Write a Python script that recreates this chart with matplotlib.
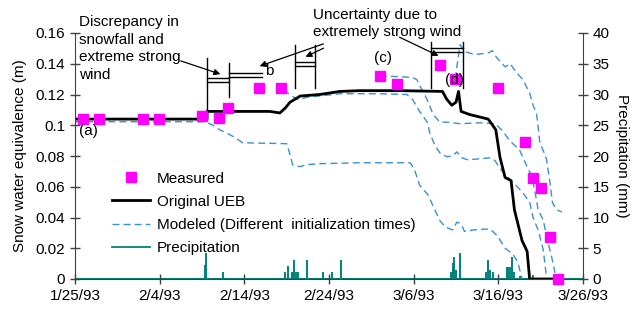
import matplotlib
matplotlib.use("Agg")
import matplotlib.pyplot as plt
from matplotlib.lines import Line2D
from matplotlib.patches import FancyArrowPatch

plt.rcParams['font.family'] = ['Liberation Sans', 'DejaVu Sans']

# ---------------- data ----------------
tick_labels = ['1/25/93', '2/4/93', '2/14/93', '2/24/93', '3/6/93', '3/16/93', '3/26/93']
tick_days = [0, 10, 20, 30, 40, 50, 60]

measured_day = [0.9, 2.8, 8.0, 9.9, 15.0, 17.0, 18.1, 21.7, 24.3, 36.0, 38.0, 43.1, 44.9,
                50.0, 53.1, 54.1, 55.0, 56.1, 57.0]
measured_swe = [0.104, 0.104, 0.104, 0.104, 0.106, 0.105, 0.111, 0.124, 0.124, 0.132, 0.127,
                0.139, 0.130, 0.124, 0.089, 0.066, 0.059, 0.027, 0.0]

ueb_day = [0, 15.6, 15.6, 23.0, 24.2, 24.8, 25.4, 26.6, 28.9, 31.3, 33.6, 38.4, 43.4, 43.9,
           44.5, 45.0, 45.3, 45.6, 46.6, 48.8, 49.2, 49.7, 50.2, 50.8, 51.5, 51.9, 52.8,
           53.4, 53.7, 57.0]
ueb_swe = [0.104, 0.104, 0.109, 0.109, 0.108, 0.111, 0.115, 0.119, 0.120, 0.122, 0.1225,
           0.1225, 0.122, 0.117, 0.113, 0.115, 0.122, 0.109, 0.107, 0.104, 0.101, 0.097,
           0.079, 0.066, 0.064, 0.045, 0.025, 0.018, 0.0, 0.0]

mod_a_day = [0, 15.35, 16.2, 17.1, 17.9, 18.9, 19.8, 25.0, 25.4, 25.7, 26.6, 27.2, 28.9,
             33.6, 39.6, 40.1, 40.7, 41.7, 42.5, 43.1, 43.7, 44.6, 45.1, 45.6, 46.0, 47.2,
             49.0, 49.9, 50.8, 51.7, 52.3, 52.8]
mod_a_swe = [0.1023, 0.1023, 0.1003, 0.097, 0.095, 0.092, 0.0886, 0.088, 0.081, 0.0743,
             0.073, 0.0743, 0.075, 0.0756, 0.0756, 0.071, 0.061, 0.0547, 0.045, 0.038,
             0.0339, 0.0319, 0.037, 0.0358, 0.031, 0.032, 0.0326, 0.028, 0.020, 0.0163,
             0.011, 0.0]

mod_b_day = [24.6, 25.4, 26.2, 26.6, 27.7, 28.9, 31.3, 36.0, 39.2, 39.9, 40.7, 41.6, 41.9,
             42.5, 43.1, 43.9, 44.6, 45.1, 45.7, 46.4, 49.0, 49.6, 50.2, 50.8, 51.9, 52.8,
             53.7, 54.1, 54.7, 55.3, 55.7]
mod_b_swe = [0.123, 0.120, 0.117, 0.117, 0.1186, 0.119, 0.1205, 0.1205, 0.120, 0.1166,
             0.109, 0.102, 0.095, 0.087, 0.082, 0.0795, 0.080, 0.0827, 0.0788, 0.0775,
             0.0788, 0.077, 0.072, 0.068, 0.062, 0.0567, 0.050, 0.040, 0.032, 0.019, 0.001]

mod_c_day = [36.0, 38.4, 39.9, 40.4, 40.7, 41.6, 42.3, 43.1, 44.0, 45.5, 47.8, 49.6, 50.2,
             50.5, 51.0, 51.6, 52.5, 53.4, 54.0, 54.5, 54.7, 55.3, 55.8, 56.3, 56.7]
mod_c_swe = [0.132, 0.1316, 0.131, 0.1296, 0.126, 0.1166, 0.107, 0.102, 0.102, 0.101,
             0.1016, 0.101, 0.098, 0.0964, 0.0925, 0.0886, 0.084, 0.073, 0.0664, 0.0515,
             0.045, 0.0384, 0.0254, 0.0143, 0.004]

mod_d_day = [44.9, 45.2, 45.5, 46.0, 47.2, 48.8, 49.3, 49.8, 50.8, 51.4, 51.7, 52.2, 52.9,
             53.7, 54.1, 54.5, 54.7, 54.9, 55.5, 55.7, 56.1, 56.4, 56.9, 57.5]
mod_d_swe = [0.130, 0.142, 0.1524, 0.148, 0.146, 0.147, 0.1485, 0.144, 0.138, 0.140,
             0.1375, 0.134, 0.1296, 0.121, 0.113, 0.108, 0.099, 0.0886, 0.081, 0.0775,
             0.0625, 0.0495, 0.045, 0.0436]

precip_day = [15.3, 15.5, 17.5, 24.8, 25.1, 25.6, 25.8, 25.9, 26.1, 26.3, 27.4, 29.3, 30.3,
              31.4, 44.4, 44.6, 44.8, 45.0, 45.5, 48.6, 48.8, 49.0, 49.4, 51.0, 51.2, 51.4,
              51.6, 51.8, 52.6, 54.1]
precip_mm = [2.2, 4.3, 1.1, 1.1, 2.1, 1.1, 1.1, 3.1, 1.1, 1.1, 3.1, 1.1, 1.1, 3.1, 1.1, 2.6,
             3.6, 1.5, 4.3, 1.2, 3.1, 1.5, 1.1, 2.0, 2.0, 2.0, 3.5, 1.2, 0.5, 0.6]

# ---------------- figure ----------------
W, H = 635, 310
fig = plt.figure(figsize=(W / 100, H / 100), dpi=100)
L, R, T, B = 75, 583, 33, 279
ax = fig.add_axes([L / W, 1 - B / H, (R - L) / W, (B - T) / H])
ax2 = ax.twinx()
ax.set_zorder(2)
ax.patch.set_visible(False)

blue = '#3a8fd6'
teal = '#00827a'
fs = 11

# precipitation on right axis
ax2.vlines(precip_day, 0, precip_mm, color=teal, lw=1.4)
ax2.axhline(0, color=teal, lw=1.5)
ax2.set_ylim(0, 40)
ax2.set_yticks(range(0, 41, 5))

dash = (0, (5, 3))
for d, v in [(mod_a_day, mod_a_swe), (mod_b_day, mod_b_swe),
             (mod_c_day, mod_c_swe), (mod_d_day, mod_d_swe)]:
    ax.plot(d, v, color=blue, lw=1.0, linestyle=dash)
ax.plot(ueb_day, ueb_swe, color='black', lw=2.0)
ax.plot(measured_day, measured_swe, linestyle='none', marker='s', ms=7,
        color='#ff00ff', mec='#ff00ff', clip_on=False, zorder=5)

ax.set_xlim(0, 60)
ax.set_ylim(0, 0.16)
ax.set_xticks(tick_days)
ax.set_xticklabels(tick_labels)
ax.set_yticks([0, 0.02, 0.04, 0.06, 0.08, 0.1, 0.12, 0.14, 0.16])
ax.set_yticklabels(['0', '0.02', '0.04', '0.06', '0.08', '0.1', '0.12', '0.14', '0.16'])

spine_col = '#404040'
for a in (ax, ax2):
    a.spines['top'].set_visible(False)
    a.tick_params(direction='inout', length=7, width=1, colors='black',
                  labelsize=fs, color=spine_col)
    for s in a.spines.values():
        s.set_color(spine_col)
ax.spines['right'].set_visible(False)
ax2.spines['left'].set_visible(False)
ax2.spines['bottom'].set_visible(False)
ax.tick_params(axis='x', pad=4)

ax.set_ylabel('Snow water equivalence (m)', fontsize=fs, labelpad=6)
ax2.set_ylabel('Precipitation (mm)', fontsize=fs, rotation=270, labelpad=14)

# legend
handles = [
    Line2D([], [], linestyle='none', marker='s', ms=7, color='#ff00ff'),
    Line2D([], [], color='black', lw=2.0),
    Line2D([], [], color=blue, lw=1.0, linestyle=dash),
    Line2D([], [], color=teal, lw=1.3),
]
labels = ['Measured', 'Original UEB', 'Modeled (Different  initialization times)', 'Precipitation']
ax.legend(handles, labels, loc='upper left', bbox_to_anchor=((104 - L) / (R - L), (B - 164) / (B - T)),
          frameon=False, fontsize=fs, handlelength=2.5, handletextpad=0.45,
          labelspacing=0.6, borderpad=0)

# ---------------- annotations (pixel positions) ----------------
def P(x, y):
    return (x / W, 1 - y / H)

def seg(x0, y0, x1, y1, lw=1.0, color='black'):
    a, b = P(x0, y0), P(x1, y1)
    fig.add_artist(Line2D([a[0], b[0]], [a[1], b[1]], transform=fig.transFigure,
                          color=color, lw=lw, zorder=10))

def arrow(x0, y0, x1, y1):
    fig.add_artist(FancyArrowPatch(
        P(x0, y0), P(x1, y1), transform=fig.transFigure, arrowstyle='-|>',
        mutation_scale=9, lw=0.9, color='black', zorder=11))

# box group near (b)
seg(207, 58, 207, 110)
seg(229, 63, 229, 97)
seg(207, 78, 229, 78); seg(207, 82, 229, 82)
seg(229, 73, 262, 73); seg(229, 77, 262, 77)
# box group 3
seg(295, 45, 295, 88)
seg(315, 45, 315, 88)
seg(295, 62, 315, 62); seg(295, 66, 315, 66)
# box group near (d)
seg(431, 42, 431, 88)
seg(463, 42, 463, 88)
seg(431, 48, 463, 48); seg(431, 52, 463, 52)

fig.text(*P(79, 15), 'Discrepancy in\nsnowfall and\nextreme strong\nwind', fontsize=fs,
         va='top', ha='left', linespacing=1.34)
arrow(178, 60, 223, 75)
arrow(326, 43, 257, 67)
arrow(326, 47, 303, 58)
fig.text(*P(313, 8), 'Uncertainty due to\nextremely strong wind', fontsize=fs,
         va='top', ha='left', linespacing=1.3)
arrow(397, 36, 441, 57)

fig.text(*P(79, 131), '(a)', fontsize=fs, va='center', ha='left')
fig.text(*P(265, 71), 'b', fontsize=fs, va='center', ha='left')
fig.text(*P(374, 58), '(c)', fontsize=fs, va='center', ha='left')
fig.text(*P(445, 80), '(d)', fontsize=fs, va='center', ha='left')

fig.savefig('out.png', dpi=100)
